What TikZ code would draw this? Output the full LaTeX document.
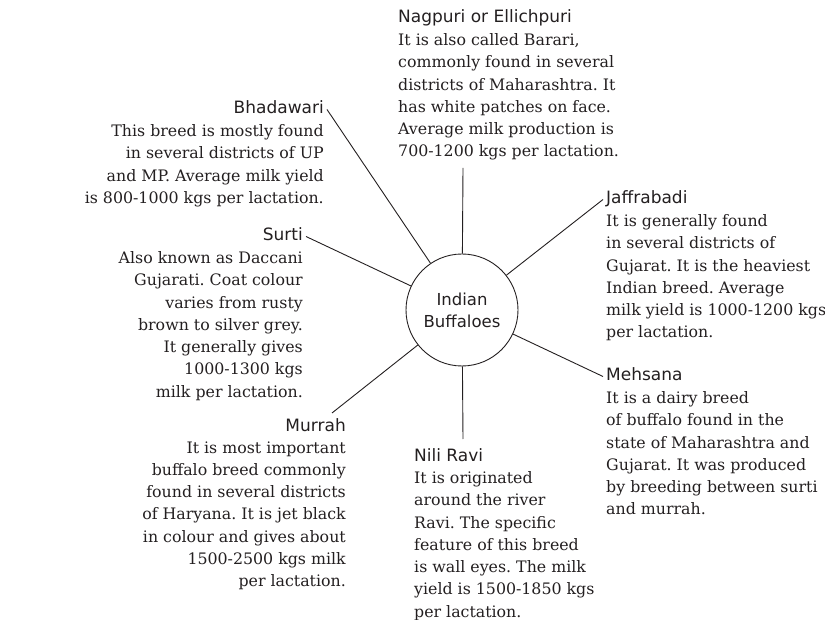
\documentclass[tikz,border=0pt]{standalone}
\usepackage{fontspec}
\setmainfont{DejaVu Serif}
\newfontfamily\headfont{DejaVu Sans}
\usetikzlibrary{positioning}
\definecolor{inkgrey}{RGB}{35,31,32}
\frenchspacing

\begin{document}
\begin{tikzpicture}[x=1pt, y=-1pt,
    breed/.style={inner xsep=3pt, inner ysep=0pt, text height=12.5pt, text depth=3.5pt, font=\headfont\fontsize{17}{20}\selectfont, text=inkgrey},
    info/.style={inner sep=0pt, font=\fontsize{15.8}{22.3}\selectfont, text=inkgrey},
    spoke/.style={draw=inkgrey, line width=0.9pt}
  ]
  \useasboundingbox (0,0) rectangle (825,620);

  % hub
  \node[circle, draw=inkgrey, line width=0.9pt, minimum size=112pt, inner sep=0pt, align=center, text=inkgrey,
        font=\headfont\fontsize{16.5}{22}\selectfont] (hub) at (462,310) {Indian\\Buffaloes};

  % breed headings
  \node[breed, anchor=base west] (nagpuri) at (395,23) {Nagpuri or Ellichpuri};
  \node[breed, anchor=base east] (bhadawari) at (327,114) {Bhadawari};
  \node[breed, anchor=base east] (surti) at (306,241) {Surti};
  \node[breed, anchor=base east] (murrah) at (349,431) {Murrah};
  \node[breed, anchor=base west] (nilira) at (411,461) {Nili Ravi};
  \node[breed, anchor=base west] (jaffrabadi) at (603,204) {Jaffrabadi};
  \node[breed, anchor=base west] (mehsana) at (603,381) {Mehsana};

  % descriptions under each heading
  \node[info, align=left, below right=6.5pt and 3pt of nagpuri.south west] (nagpuri-txt) {
    It is also called Barari,\\
    commonly found in several\\
    districts of Maharashtra. It\\
    has white patches on face.\\
    Average milk production is\\
    700-1200 kgs per lactation.};
  \node[info, align=right, below left=6.5pt and 3pt of bhadawari.south east] (bhadawari-txt) {
    This breed is mostly found\\
    in several districts of UP\\
    and MP. Average milk yield\\
    is 800-1000 kgs per lactation.};
  \node[info, align=right, below left=6.5pt and 3pt of surti.south east] (surti-txt) {
    Also known as Daccani\\
    Gujarati. Coat colour\\
    varies from rusty\\
    brown to silver grey.\\
    It generally gives\\
    1000-1300 kgs\\
    milk per lactation.};
  \node[info, align=right, below left=6.5pt and 3pt of murrah.south east] (murrah-txt) {
    It is most important\\
    buffalo breed commonly\\
    found in several districts\\
    of Haryana. It is jet black\\
    in colour and gives about\\
    1500-2500 kgs milk\\
    per lactation.};
  \node[info, align=left, below right=6.5pt and 3pt of nilira.south west] (nilira-txt) {
    It is originated\\
    around the river\\
    Ravi. The specific\\
    feature of this breed\\
    is wall eyes. The milk\\
    yield is 1500-1850 kgs\\
    per lactation.};
  \node[info, align=left, below right=6.5pt and 3pt of jaffrabadi.south west] (jaffrabadi-txt) {
    It is generally found\\
    in several districts of\\
    Gujarat. It is the heaviest\\
    Indian breed. Average\\
    milk yield is 1000-1200 kgs\\
    per lactation.};
  \node[info, align=left, below right=6.5pt and 3pt of mehsana.south west] (mehsana-txt) {
    It is a dairy breed\\
    of buffalo found in the\\
    state of Maharashtra and\\
    Gujarat. It was produced\\
    by breeding between surti\\
    and murrah.};

  % free ends of the spokes that stop short of a heading
  \coordinate (nagpuri-tip) at (463,168);
  \coordinate (murrah-tip) at (332,413);
  \coordinate (nilira-tip) at (463,439);

  % spokes
  \draw[spoke] (hub) -- (nagpuri-tip);
  \draw[spoke] (hub) -- (bhadawari.east);
  \draw[spoke] (hub) -- (surti.east);
  \draw[spoke] (hub) -- (murrah-tip);
  \draw[spoke] (hub) -- (nilira-tip);
  \draw[spoke] (hub) -- (jaffrabadi.west);
  \draw[spoke] (hub) -- (mehsana.west);
\end{tikzpicture}
\end{document}
